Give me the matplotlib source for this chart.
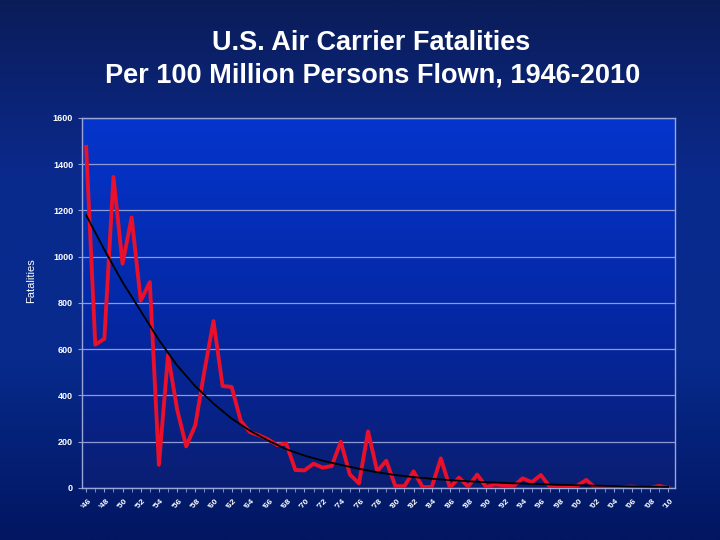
import matplotlib
matplotlib.use("Agg")
import matplotlib.pyplot as plt
import numpy as np
from matplotlib.colors import LinearSegmentedColormap

# data
years = list(range(1946, 2011))
fatalities = [1475, 620, 645, 1345, 970, 1170, 810, 890, 100, 575,
              340, 180, 272, 505, 722, 441, 437, 290, 242, 228,
              210, 186, 192, 78, 76, 105, 88, 95, 200, 58,
              20, 245, 72, 118, 8, 8, 72, 4, 4, 128,
              2, 45, 6, 58, 4, 16, 10, 8, 42, 25,
              56, 4, 1, 2, 10, 35, 0, 3, 1, 4,
              6, 1, 1, 9, 1]

# trendline read at a few years
trend_years = [1946, 1948, 1950, 1952, 1954, 1956, 1958, 1960, 1962, 1964,
               1966, 1968, 1970, 1972, 1974, 1976, 1978, 1980, 1982, 1984,
               1986, 1988, 1990, 1994, 1998, 2002, 2006, 2010]
trend_vals = [1180, 1030, 890, 765, 640, 530, 440, 365, 300, 248,
              205, 168, 140, 118, 100, 83, 68, 56, 47, 40,
              34, 29, 25, 19, 14, 10, 7, 5]

tick_years = years[::2]
tick_labels = ["'%02d" % (y % 100) for y in tick_years]

fig = plt.figure(figsize=(7.2, 5.4), dpi=100)

# slide background gradient
bg = fig.add_axes([0, 0, 1, 1], zorder=-10)
bg_cmap = LinearSegmentedColormap.from_list(
    "bg", ["#0b1c58", "#0a2a8e", "#072a8c", "#021661"])
bg.imshow(np.linspace(0, 1, 256).reshape(-1, 1), aspect="auto",
          cmap=bg_cmap, extent=[0, 1, 0, 1])
bg.set_axis_off()

ax = fig.add_axes([0.114, 0.0963, 0.8235, 0.6852])
x0, x1 = 1946 - 0.45, 2010 + 0.75

# plot area gradient, bright at top
plot_cmap = LinearSegmentedColormap.from_list(
    "pa", ["#0535cc", "#0429a8", "#0a1e72"])
ax.imshow(np.linspace(0, 1, 256).reshape(-1, 1), aspect="auto",
          cmap=plot_cmap, extent=[x0, x1, 0, 1600], zorder=0)
ax.set_xlim(x0, x1)
ax.set_ylim(0, 1600)

ax.set_yticks(range(0, 1601, 200))
ax.grid(axis="y", color="#8c9ad6", linewidth=0.9, zorder=1)
ax.set_axisbelow(True)

ax.plot(years, fatalities, color="#e8102a", linewidth=2.8, zorder=3)
ax.plot(trend_years, trend_vals, color="black", linewidth=1.3, zorder=4)

ax.set_xticks(tick_years)
ax.set_xticklabels(tick_labels, rotation=45, ha="center",
                   fontsize=6, fontweight="bold", color="white",
                   family="Liberation Sans")
ax.set_xticks(years, minor=True)
ax.tick_params(axis="x", which="both", length=3, color="#8c9ad6")
ax.tick_params(axis="y", length=3, color="#8c9ad6", labelsize=6.5,
               labelcolor="white")
for lbl in ax.get_yticklabels():
    lbl.set_fontweight("bold")
    lbl.set_family("Liberation Sans")

for side in ["left", "right", "bottom", "top"]:
    ax.spines[side].set_color("#9aa6da")
    ax.spines[side].set_linewidth(1.0)

ax.set_ylabel("Fatalities", color="white", fontsize=8,
              family="Liberation Sans")
ax.yaxis.set_label_coords(-0.078, 0.56)

fig.text(0.515, 0.920, "U.S. Air Carrier Fatalities", ha="center",
         va="center", color="white", fontsize=19.5, fontweight="bold",
         family="Liberation Sans")
fig.text(0.517, 0.860, "Per 100 Million Persons Flown, 1946-2010",
         ha="center", va="center", color="white", fontsize=19.5,
         fontweight="bold", family="Liberation Sans")

fig.savefig("out.png", dpi=100)
